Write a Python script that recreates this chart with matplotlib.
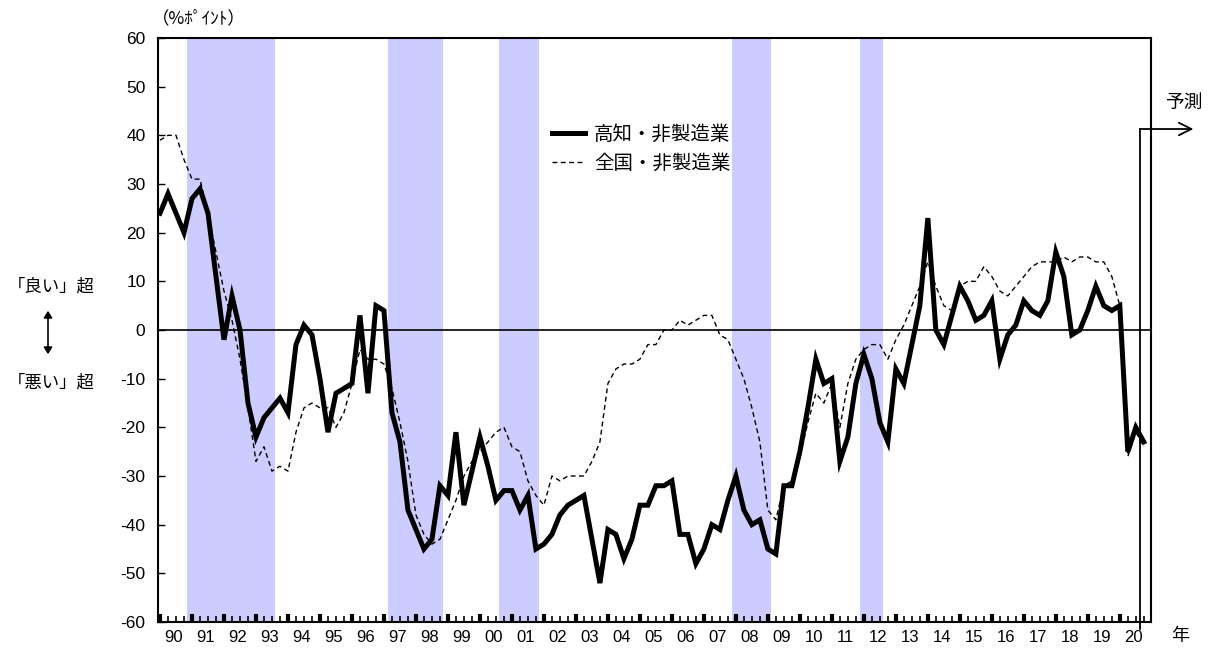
import matplotlib
matplotlib.use('Agg')
import matplotlib.pyplot as plt
from matplotlib.lines import Line2D
import numpy as np

plt.rcParams['font.family'] = ['Noto Sans CJK JP', 'DejaVu Sans']
plt.rcParams['axes.unicode_minus'] = False

# 業況判断DI（「良い」-「悪い」, %ポイント）, 1990Q1 - 2020Q4（最後は予測）
kochi = [24, 28, 24, 20, 27, 29, 24, 11, -2, 7, 0, -15, -22, -18, -16, -14,
         -17, -3, 1, -1, -10, -21, -13, -12, -11, 3, -13, 5, 4, -17, -23, -37,
         -41, -45, -43, -32, -34, -21, -36, -29, -22, -28, -35, -33, -33, -37, -34, -45,
         -44, -42, -38, -36, -35, -34, -43, -52, -41, -42, -47, -43, -36, -36, -32, -32,
         -31, -42, -42, -48, -45, -40, -41, -35, -30, -37, -40, -39, -45, -46, -32, -32,
         -25, -16, -6, -11, -10, -27, -22, -11, -5, -10, -19, -23, -8, -11, -3, 5,
         23, 0, -3, 3, 9, 6, 2, 3, 6, -6, -1, 1, 6, 4, 3, 6,
         16, 11, -1, 0, 4, 9, 5, 4, 5, -25, -20, -23]

zenkoku = [39, 40, 40, 35, 31, 31, 24, 16, 8, 2, -6, -16, -27, -24, -29, -28,
           -29, -21, -16, -15, -16, -16, -20, -17, -11, -4, -6, -6, -7, -12, -19, -27,
           -38, -42, -44, -43, -39, -35, -30, -27, -25, -23, -21, -20, -24, -25, -31, -34,
           -36, -30, -31, -30, -30, -30, -27, -23, -11, -8, -7, -7, -6, -3, -3, 0,
           0, 2, 1, 2, 3, 3, -1, -2, -6, -10, -16, -23, -37, -39, -32, -31,
           -26, -19, -13, -15, -11, -20, -11, -6, -4, -3, -3, -6, -2, 1, 5, 9,
           14, 9, 5, 4, 9, 10, 10, 13, 11, 8, 7, 9, 11, 13, 14, 14,
           14, 15, 14, 15, 15, 14, 14, 11, 5, -26, -21, -24]

year_labels = ['90', '91', '92', '93', '94', '95', '96', '97', '98', '99',
               '00', '01', '02', '03', '04', '05', '06', '07', '08', '09',
               '10', '11', '12', '13', '14', '15', '16', '17', '18', '19', '20']

# 景気後退期（四半期インデックス）
bands = [(3.35, 14.4), (28.5, 35.4), (42.4, 47.4), (71.5, 76.4), (87.5, 90.4)]

W, H = 1214, 654
fig = plt.figure(figsize=(W / 100, H / 100), dpi=100)
ax = fig.add_axes([158 / W, 32 / H, 993 / W, 584 / H])

x = np.arange(len(kochi))

for a, b in bands:
    ax.axvspan(a, b, color='#ccccff', lw=0, zorder=0)
ax.axhline(0, color='black', lw=1.2, zorder=1)

ax.plot(x, zenkoku, color='black', lw=1.0, ls=(0, (3.5, 2.5)), zorder=2)
ax.plot(x, kochi, color='black', lw=3.6, zorder=3, solid_joinstyle='miter')

ax.set_xlim(-0.25, 123.9)
ax.set_ylim(-60, 60)
ax.set_yticks(range(-60, 61, 10))
ax.set_xticks(np.arange(0, len(kochi), 4))
ax.set_xticks(np.arange(0, len(kochi)), minor=True)
ax.tick_params(axis='y', direction='in', length=5, width=1, labelsize=12.5, pad=9,
               labelfontfamily='Liberation Sans')
ax.tick_params(axis='x', which='major', direction='in', length=6, width=3,
               labelbottom=False)
ax.tick_params(axis='x', which='minor', direction='in', length=4, width=1.2)
for s in ax.spines.values():
    s.set_linewidth(1.5)

# 年ラベル
for k, lab in enumerate(year_labels):
    ax.text(4 * k + 1.75, -0.013, lab, transform=ax.get_xaxis_transform(),
            ha='center', va='top', fontsize=12, family='Liberation Sans')
fig.text(1180 / W, 1 - 636 / H, '年', ha='center', va='center', fontsize=13)

# 凡例
handles = [Line2D([], [], color='black', lw=3.6),
           Line2D([], [], color='black', lw=1.0, ls=(0, (3.5, 2.5)))]
ax.legend(handles, ['高知・非製造業', '全国・非製造業'], loc='upper left',
          bbox_to_anchor=(0.397, 0.853), frameon=False, fontsize=14,
          handlelength=1.7, handletextpad=0.45, labelspacing=0.42,
          borderaxespad=0, borderpad=0)

# 予測
fx = len(kochi) - 1.5
ax.plot([fx, fx], [-61.5, 41.3], color='black', lw=1.3, clip_on=False, zorder=4)
ax.annotate('', xy=(129.2, 41.3), xytext=(fx, 41.3),
            arrowprops=dict(arrowstyle='->,head_length=0.9,head_width=0.45',
                            lw=1.3, color='black', shrinkA=0, shrinkB=0),
            annotation_clip=False)
fig.text(1184 / W, 1 - 102 / H, '予測', ha='center', va='center', fontsize=13.5)

# 軸ラベル・注記
fig.text(152 / W, 1 - 18 / H, '（%ﾎﾟｲﾝﾄ）', ha='left', va='center', fontsize=12.5)
fig.text(8 / W, 1 - 287 / H, '「良い」超', ha='left', va='center', fontsize=12.5)
fig.text(8 / W, 1 - 383 / H, '「悪い」超', ha='left', va='center', fontsize=12.5)
fig.patches.append(matplotlib.patches.FancyArrowPatch(
    (48 / W, 1 - 357 / H), (48 / W, 1 - 308 / H), transform=fig.transFigure,
    arrowstyle='<|-|>,head_length=4,head_width=2.5', lw=1.2, color='black'))

fig.savefig('out.png', dpi=100)
